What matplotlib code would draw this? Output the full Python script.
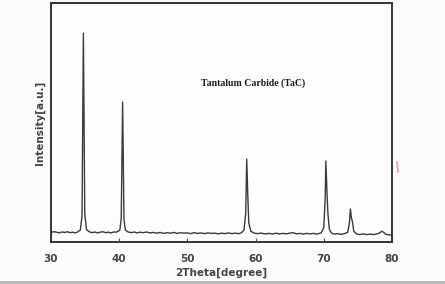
import matplotlib
matplotlib.use('Agg')
import matplotlib.pyplot as plt
from matplotlib.patches import Rectangle
from matplotlib.lines import Line2D

# XRD 圖譜數據
two_theta = [30.0, 30.4, 30.8, 31.2, 31.6, 32.0, 32.4, 32.8, 33.2, 33.6, 33.9, 34.3, 34.55,
             34.75, 34.95, 35.2, 35.6, 36.0, 36.4, 36.8, 37.2, 37.6, 38.0, 38.4, 38.8,
             39.2, 39.6, 40.1, 40.3, 40.5, 40.7, 40.9, 41.3, 41.8, 42.2, 42.6, 43.0,
             43.5, 44.0, 44.5, 45.0, 45.5, 46.0, 46.5, 47.0, 47.5, 48.0, 48.5, 49.0,
             49.5, 50.0, 50.5, 51.0, 51.5, 52.0, 52.5, 53.0, 53.5, 54.0, 54.5, 55.0,
             55.5, 56.0, 56.5, 57.0, 57.5, 57.9, 58.3, 58.55, 58.7, 58.85, 59.0,
             59.3, 59.8, 60.3, 60.8, 61.4, 62.0, 62.5, 63.0, 63.5, 64.0, 64.5, 65.0,
             65.5, 66.0, 66.5, 67.0, 67.5, 68.0, 68.5, 69.0, 69.6, 70.0, 70.2, 70.3,
             70.45, 70.6, 70.8, 71.1, 71.5, 72.0, 72.5, 73.0, 73.5, 73.75, 73.9, 74.05,
             74.2, 74.4, 74.8, 75.3, 75.8, 76.3, 76.8, 77.3, 77.8, 78.2, 78.5, 78.8,
             79.1, 79.5, 80.0]
intensity = [40, 43, 41, 38, 42, 40, 43, 39, 41, 38, 42, 50, 110,
             874, 120, 52, 43, 39, 42, 38, 41, 43, 39, 41, 38,
             42, 41, 50, 100, 586, 95, 50, 42, 39, 42, 38, 41,
             39, 42, 38, 40, 37, 40, 36, 39, 37, 40, 36, 39,
             37, 38, 35, 39, 36, 38, 35, 38, 36, 37, 34, 37,
             35, 38, 35, 37, 35, 38, 50, 120, 347, 200, 80,
             45, 37, 35, 37, 34, 36, 33, 37, 34, 36, 34, 37,
             39, 34, 36, 33, 36, 34, 36, 33, 38, 60, 180, 339,
             220, 120, 55, 38, 33, 35, 32, 35, 40, 80, 138, 100,
             85, 45, 34, 31, 34, 31, 33, 31, 34, 38, 45, 40,
             32, 30, 29]

x_ticks = [30, 40, 50, 60, 70, 80]

fig = plt.figure(figsize=(4.45, 2.84), dpi=100, facecolor='#fbfbfb')
ax = fig.add_axes([0.1146, 0.1479, 0.7663, 0.8415])
ax.set_facecolor('#fdfdfd')

ax.plot(two_theta, intensity, color='#3a3a3a', linewidth=1.0)

ax.set_xlim(30, 80)
ax.set_ylim(0, 1000)
ax.set_xticks(x_ticks)
ax.set_xticklabels([str(t) for t in x_ticks], fontsize=7.5, fontweight='bold', color='#444444')
ax.set_yticks([])
ax.tick_params(axis='x', direction='in', length=3, width=0.8, color='#555555', pad=9)

for s in ax.spines.values():
    s.set_color('#333333')
    s.set_linewidth(1.4)

ax.set_xlabel('2Theta[degree]', fontsize=7.5, fontweight='bold', color='#444444', labelpad=2)
ax.set_ylabel('Intensity[a.u.]', fontsize=7.5, fontweight='bold', color='#444444', labelpad=4)

# 標註
ax.text(59.6, 665, 'Tantalum Carbide (TaC)', fontsize=7, fontweight='bold',
        family='Liberation Serif', ha='center', va='center', color='#1a1a1a')

# 掃描痕跡
fig.patches.append(Rectangle((0, 0), 1, 3 / 284, transform=fig.transFigure,
                             facecolor='#b8b8b8', edgecolor='none'))
fig.lines.append(Line2D([397 / 445, 398 / 445], [1 - 162 / 284, 1 - 172 / 284],
                        transform=fig.transFigure, color='#e8a0b8', linewidth=1.2))

fig.savefig('out.png', dpi=100, facecolor=fig.get_facecolor())
